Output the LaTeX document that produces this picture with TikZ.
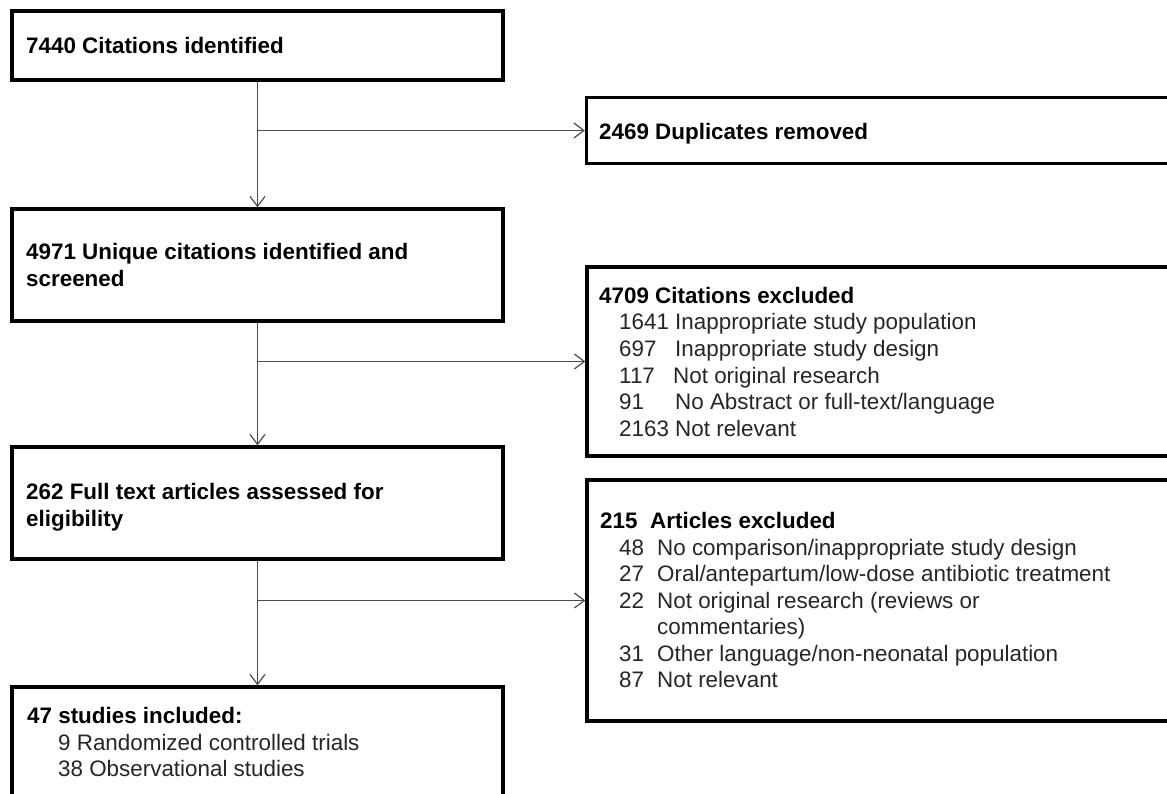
\documentclass[tikz,border=0pt]{standalone}
\usepackage{fontspec}
\setmainfont{Liberation Sans}
\usetikzlibrary{arrows.meta}
\begin{document}
\begin{tikzpicture}[x=1pt,y=-1pt,
  box/.style={draw=black, line width=3.3pt, rectangle, inner sep=0pt},
  ttl/.style={anchor=base west, inner sep=0pt, font=\fontsize{22.4}{26.5}\selectfont\bfseries, text=black},
  txt/.style={anchor=base west, inner sep=0pt, font=\fontsize{22.4}{26.5}\selectfont, text=black!85},
  flow/.style={draw=black!70, line width=1.2pt, -{Straight Barb[length=10pt,width=15pt,line width=1.2pt]}}
]
\fill[white] (0,0) rectangle (1167,794);
\useasboundingbox (0,0) rectangle (1167,794);
\clip (0,0) rectangle (1167,794);

% boxes
\node[box, minimum width=491pt, minimum height=69pt]  (b1) at (257.5,45.5) {};
\node[box, minimum width=491pt, minimum height=112pt] (b2) at (257.5,265) {};
\node[box, minimum width=491pt, minimum height=112pt] (b3) at (257.5,503) {};
\node[box, minimum width=491pt, minimum height=143pt] (b4) at (257.5,758.5) {};
\node[box, minimum width=604pt, minimum height=66pt]  (r1) at (888.5,130.5) {};
\node[box, minimum width=603pt, minimum height=189pt] (r2) at (888.5,361.5) {};
\node[box, minimum width=603pt, minimum height=241pt] (r3) at (888.5,600.5) {};

% connectors
\draw[flow] (b1.south) -- (b2.north);
\draw[flow] (b2.south) -- (b3.north);
\draw[flow] (b3.south) -- (b4.north);
\draw[flow] (b1.south |- r1.west) -- (r1.west);
\draw[flow] (b2.south |- r2.west) -- (r2.west);
\draw[flow] (b3.south |- r3.west) -- (r3.west);

% texts
\node[ttl] (t1) at (26,54) {7440 Citations identified};
\node[ttl] (tr1) at (599,140) {2469 Duplicates removed};

\node[ttl] (t2a) at (26,260) {4971 Unique citations identified and};
\node[ttl] (t2b) at (26,287) {screened};

\node[ttl] (tr2) at (599,303) {4709 Citations excluded};
\node[txt] (tr2a) at (619,330) {1641 Inappropriate study population};
\node[txt] (tr2b) at (619,356.5) {\makebox[56pt][l]{697}Inappropriate study design};
\node[txt] (tr2c) at (619,383) {\makebox[54pt][l]{117}Not original research};
\node[txt] (tr2d) at (619,409.5) {\makebox[56pt][l]{91}No Abstract or full-text/language};
\node[txt] (tr2e) at (619,436) {2163 Not relevant};

\node[ttl] (t3a) at (26,499) {262 Full text articles assessed for};
\node[ttl] (t3b) at (26,526) {eligibility};

\node[ttl] (tr3) at (600,528) {\makebox[50pt][l]{215}Articles excluded};
\node[txt] (tr3a) at (619,555) {\makebox[38pt][l]{48}No comparison/inappropriate study design};
\node[txt] (tr3b) at (619,581.5) {\makebox[38pt][l]{27}Oral/antepartum/low-dose antibiotic treatment};
\node[txt] (tr3c) at (619,608) {\makebox[38pt][l]{22}Not original research (reviews or};
\node[txt] (tr3d) at (657,634.5) {commentaries)};
\node[txt] (tr3e) at (619,661) {\makebox[38pt][l]{31}Other language/non-neonatal population};
\node[txt] (tr3f) at (619,687.5) {\makebox[38pt][l]{87}Not relevant};

\node[ttl] (t4a) at (27,723) {47 studies included:};
\node[txt] (t4b) at (58,750) {9 Randomized controlled trials};
\node[txt] (t4c) at (58,776) {38 Observational studies};
\end{tikzpicture}
\end{document}
